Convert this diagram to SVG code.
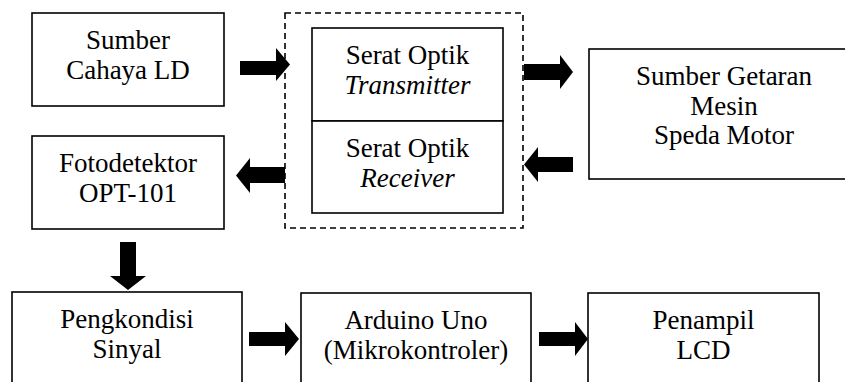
<svg xmlns="http://www.w3.org/2000/svg" width="845" height="382" viewBox="0 0 845 382">
<style>
.box{fill:#fff;stroke:#000;stroke-width:1.6}
.dash{fill:none;stroke:#000;stroke-width:1.6;stroke-dasharray:6 4}
.t{font-family:'Liberation Serif','Times New Roman','DejaVu Serif',serif;font-size:27px;fill:#000;text-anchor:middle}
.it{font-style:italic}
.arr{fill:#000;stroke:none}
</style>
<rect width="845" height="382" fill="#fff"/>
<g id="group-serat">
<rect class="dash" x="285" y="13" width="238" height="215"/>
</g>
<g id="n-ld" class="t">
<rect class="box" x="32" y="13" width="192" height="93"/>
<text x="128" y="49">Sumber</text>
<text x="128" y="79">Cahaya LD</text>
</g>
<g id="n-transmitter" class="t">
<rect class="box" x="312" y="28" width="191" height="93"/>
<text x="407.5" y="64">Serat Optik</text>
<text x="407.5" y="94" class="it">Transmitter</text>
</g>
<g id="n-receiver" class="t">
<rect class="box" x="312" y="121" width="191" height="92"/>
<text x="407.5" y="157">Serat Optik</text>
<text x="407.5" y="187" class="it">Receiver</text>
</g>
<g id="n-getaran" class="t">
<rect class="box" x="589" y="49" width="272" height="130"/>
<text x="724" y="85">Sumber Getaran</text>
<text x="724" y="115">Mesin</text>
<text x="724" y="144">Speda Motor</text>
</g>
<g id="n-foto" class="t">
<rect class="box" x="32" y="136" width="192" height="93"/>
<text x="128" y="172">Fotodetektor</text>
<text x="128" y="202">OPT-101</text>
</g>
<g id="n-pengkondisi" class="t">
<rect class="box" x="12" y="292" width="230" height="100"/>
<text x="127" y="328">Pengkondisi</text>
<text x="127" y="358">Sinyal</text>
</g>
<g id="n-arduino" class="t">
<rect class="box" x="301" y="293" width="230" height="100"/>
<text x="416" y="329">Arduino Uno</text>
<text x="416" y="359">(Mikrokontroler)</text>
</g>
<g id="n-lcd" class="t">
<rect class="box" x="588" y="293" width="231" height="100"/>
<text x="703.5" y="329">Penampil</text>
<text x="703.5" y="359">LCD</text>
</g>
<g id="connectors">
<polygon class="arr" points="240,61 276,61 276,48 290,64.5 276,81 276,75 240,75"/>
<polygon class="arr" points="524,64 560,64 560,55 573,72 560,89 560,80 524,80"/>
<polygon class="arr" points="573,157 538,157 538,147 524,164.5 538,182 538,172 573,172"/>
<polygon class="arr" points="285,167 250,167 250,158 236,175.5 250,193 250,183 285,183"/>
<polygon class="arr" points="120,242 136,242 136,276 146,276 128,290 110,276 120,276"/>
<polygon class="arr" points="249,332 285,332 285,322 299,339 285,356 285,346 249,346"/>
<polygon class="arr" points="539,332 575,332 575,322 588,339 575,356 575,346 539,346"/>
</g>
</svg>
